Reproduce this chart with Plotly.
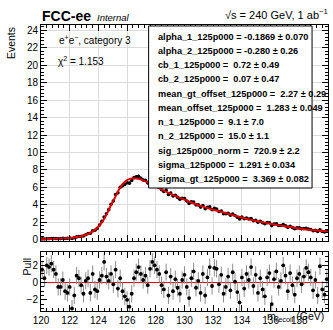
import numpy as np
import plotly.graph_objects as go

# ---------------- data ----------------
x_min, x_max, n_bins = 120.0, 140.0, 125
bin_w = (x_max - x_min) / n_bins
bin_centers = x_min + bin_w * (np.arange(n_bins) + 0.5)

events = [
    0.11, 0.10, 0.13, 0.13, 0.15,
    0.145, 0.145, 0.13, 0.145, 0.18,
    0.16, 0.17, 0.21, 0.16, 0.24,
    0.34, 0.39, 0.42, 0.44, 0.59,
    0.72, 0.75, 1.03, 1.10, 1.31,
    1.70, 2.11, 2.62, 2.99, 3.46,
    4.08, 4.45, 5.20, 5.38, 6.03,
    6.18, 6.34, 6.54, 6.49, 6.80,
    7.12, 7.21, 7.29, 7.06, 6.85,
    6.81, 6.52, 6.69, 6.67, 6.47,
    6.26, 6.06, 5.74, 5.54, 5.69,
    5.19, 5.37, 5.02, 5.10, 4.86,
    4.65, 4.75, 4.72, 4.44, 4.16,
    4.35, 4.34, 4.01, 4.00, 3.75,
    3.93, 3.56, 3.72, 3.77, 3.45,
    3.60, 3.52, 3.25, 3.30, 2.99,
    3.00, 3.05, 2.82, 2.96, 2.78,
    2.59, 2.40, 2.61, 2.42, 2.51,
    2.39, 2.45, 2.19, 2.25, 2.01,
    2.11, 1.95, 1.84, 1.97, 1.96,
    1.63, 1.81, 1.83, 1.64, 1.65,
    1.74, 1.60, 1.43, 1.54, 1.40,
    1.28, 1.37, 1.37, 1.26, 1.29,
    1.31, 1.25, 1.18, 1.05, 1.10,
    0.97, 1.15, 0.96, 0.90, 0.98,
]

events_err = [
    0.02, 0.02, 0.02, 0.02, 0.02,
    0.02, 0.02, 0.02, 0.02, 0.02,
    0.03, 0.03, 0.03, 0.03, 0.03,
    0.03, 0.04, 0.04, 0.04, 0.05,
    0.05, 0.05, 0.06, 0.06, 0.07,
    0.08, 0.09, 0.09, 0.10, 0.11,
    0.12, 0.13, 0.13, 0.14, 0.15,
    0.15, 0.15, 0.16, 0.16, 0.16,
    0.16, 0.16, 0.16, 0.16, 0.16,
    0.16, 0.15, 0.15, 0.15, 0.15,
    0.15, 0.15, 0.14, 0.14, 0.14,
    0.14, 0.14, 0.14, 0.14, 0.13,
    0.13, 0.13, 0.13, 0.13, 0.13,
    0.12, 0.12, 0.12, 0.12, 0.12,
    0.12, 0.12, 0.12, 0.11, 0.11,
    0.11, 0.11, 0.11, 0.11, 0.11,
    0.11, 0.10, 0.10, 0.10, 0.10,
    0.10, 0.10, 0.10, 0.10, 0.09,
    0.09, 0.09, 0.09, 0.09, 0.09,
    0.09, 0.09, 0.08, 0.08, 0.08,
    0.08, 0.08, 0.08, 0.08, 0.08,
    0.08, 0.07, 0.07, 0.07, 0.07,
    0.07, 0.07, 0.07, 0.07, 0.07,
    0.07, 0.07, 0.06, 0.06, 0.06,
    0.06, 0.06, 0.06, 0.06, 0.06,
]

pulls = [
    1.5, 0.5, 2.0, 1.8, 2.2,
    1.5, 1.0, -0.5, -0.5, 0.3,
    -1.0, -1.2, -0.5, -3.0, -1.5,
    0.8, 0.5, -0.3, -1.3, 0.2,
    0.5, -1.2, 1.0, -0.8, -1.0,
    0.3, 0.8, 2.4, 0.7, 0.2,
    1.0, -0.2, 1.5, -0.7, 0.5,
    -1.0, -1.6, -2.0, -2.8, -1.3,
    0.5, 1.2, 1.8, 1.0, 0.3,
    0.8, -0.3, 1.6, 2.4, 2.0,
    1.5, 1.0, -0.3, -0.8, 1.2,
    -1.5, 0.7, -1.0, 0.4, -0.6,
    -1.3, 0.3, 0.9, -0.5, -1.8,
    0.5, 1.3, -0.6, 0.2, -1.2,
    1.0, -1.5, 0.6, 1.8, -0.4,
    1.7, 1.6, -0.2, 0.9, -1.3,
    -0.5, 0.7, -0.9, 1.2, 0.1,
    -1.1, -2.3, 0.6, -0.7, 1.0,
    0.3, 1.8, -0.4, 0.9, -1.2,
    0.5, -0.8, -1.6, 0.6, 1.1,
    -2.5, 0.4, 1.3, -0.5, 0.2,
    2.0, 0.8, -1.0, 1.1, -0.3,
    -1.4, 0.5, 1.0, -0.2, 0.7,
    1.7, 1.2, 0.6, -0.9, 0.3,
    -1.5, 1.9, -0.8, -1.4, 0.4,
]
pull_err = 1.0

fit_x = [120, 121, 122, 122.5, 123, 123.5, 123.8, 124, 124.4, 124.8, 125.2, 125.6,
         126.0, 126.4, 126.8, 127.2, 127.6, 128, 128.5, 129, 130, 131, 132, 133,
         134, 135, 136, 137, 138, 139, 140]
fit_y = [0.08, 0.12, 0.22, 0.32, 0.5, 0.85, 1.2, 1.5, 2.4, 3.7, 5.0, 6.2,
         6.85, 7.05, 7.0, 6.75, 6.45, 6.1, 5.7, 5.3, 4.6, 3.95, 3.45, 3.0,
         2.55, 2.15, 1.85, 1.55, 1.3, 1.1, 0.95]

legend_lines = [
    "alpha_1_125p000 = -0.1869 ± 0.070",
    "alpha_2_125p000 = -0.280 ± 0.26",
    "cb_1_125p000 =  0.72 ± 0.49",
    "cb_2_125p000 =  0.07 ± 0.47",
    "mean_gt_offset_125p000 =  2.27 ± 0.29",
    "mean_offset_125p000 =  1.283 ± 0.049",
    "n_1_125p000 =  9.1 ± 7.0",
    "n_2_125p000 =  15.0 ± 1.1",
    "sig_125p000_norm =  720.9 ± 2.2",
    "sigma_125p000 =  1.291 ± 0.034",
    "sigma_gt_125p000 =  3.369 ± 0.082",
]

x_ticks = [120, 122, 124, 126, 128, 130, 132, 134, 136, 138, 140]

# ---------------- geometry helpers (pixels -> paper) ----------------
W, H = 333, 330
ML, MR, MT, MB = 41, 4, 25, 12
PW, PH = W - ML - MR, H - MT - MB


def px(x):
    return (x - ML) / PW


def py(y):
    return (H - MB - y) / PH


FONT = "Liberation Sans, Arial, Helvetica, sans-serif"

fig = go.Figure()

fig.add_trace(go.Scatter(
    x=bin_centers, y=events, mode="markers",
    marker=dict(color="black", size=3.6),
    error_y=dict(type="data", array=events_err, color="black", thickness=1, width=0),
    xaxis="x", yaxis="y", showlegend=False))

fig.add_trace(go.Scatter(
    x=fit_x, y=fit_y, mode="lines", line=dict(color="#e00000", width=2, shape="spline"),
    xaxis="x", yaxis="y", showlegend=False))

fig.add_trace(go.Scatter(
    x=[x_min, x_max], y=[0, 0], mode="lines", line=dict(color="#e00000", width=1),
    xaxis="x2", yaxis="y2", showlegend=False))

fig.add_trace(go.Scatter(
    x=bin_centers, y=pulls, mode="markers",
    marker=dict(color="black", size=3.8),
    error_y=dict(type="constant", value=pull_err, color="#8c8c8c", thickness=1, width=0),
    xaxis="x2", yaxis="y2", showlegend=False))

axis_common = dict(
    showline=True, linecolor="black", linewidth=1, mirror="allticks",
    ticks="inside", ticklen=6, tickcolor="black", zeroline=False,
    tickfont=dict(family=FONT, size=10, color="black"),
)

fig.update_layout(
    width=W, height=H,
    margin=dict(l=ML, r=MR, t=MT, b=MB),
    paper_bgcolor="white", plot_bgcolor="white",
    font=dict(family=FONT, color="black"),
    xaxis=dict(domain=[0, 1], range=[x_min, x_max], anchor="y", showticklabels=False,
               tickvals=x_ticks, showgrid=True, gridcolor="#dcdcdc", gridwidth=1,
               minor=dict(dtick=0.4, ticks="inside", ticklen=3, tickcolor="black", showgrid=False),
               **axis_common),
    yaxis=dict(domain=[py(246), 1], range=[-0.1, 24.6], anchor="x", dtick=2, tick0=0,
               showgrid=True, gridcolor="#dcdcdc", gridwidth=1,
               minor=dict(dtick=0.4, ticks="inside", ticklen=3, tickcolor="black", showgrid=False),
               **axis_common),
    xaxis2=dict(domain=[0, 1], range=[x_min, x_max], anchor="y2", matches="x",
                tickvals=x_ticks, showgrid=False,
                minor=dict(dtick=0.4, ticks="inside", ticklen=3, tickcolor="black", showgrid=False),
                **axis_common),
    yaxis2=dict(domain=[0, py(258)], range=[-3.3, 3.5], anchor="x2",
                tickvals=[-2, 0, 2], ticktext=["−2", "0", "2"], showgrid=False,
                minor=dict(dtick=0.5, ticks="inside", ticklen=3, tickcolor="black", showgrid=False),
                **axis_common),
)

shapes = [dict(type="rect", xref="paper", yref="paper",
               x0=px(149), x1=px(313), y0=py(192), y1=py(26),
               fillcolor="white", line=dict(color="black", width=1), layer="above")]
fig.update_layout(shapes=shapes)

ann = []
line_ys = np.linspace(37, 183, len(legend_lines))
for txt, yy in zip(legend_lines, line_ys):
    ann.append(dict(text="<b>%s</b>" % txt, xref="paper", yref="paper", x=px(156), y=py(yy),
                    xanchor="left", yanchor="middle", showarrow=False,
                    font=dict(family=FONT, size=9.2, color="black")))

ann += [
    dict(text="<b>FCC-ee</b>", xref="paper", yref="paper", x=px(40), y=py(16),
         xanchor="left", yanchor="middle", showarrow=False,
         font=dict(family=FONT, size=14, color="black")),
    dict(text="<i>Internal</i>", xref="paper", yref="paper", x=px(95), y=py(17),
         xanchor="left", yanchor="middle", showarrow=False,
         font=dict(family=FONT, size=9.5, color="black")),
    dict(text="√s = 240 GeV, 1 ab<sup>−1</sup>", xref="paper", yref="paper", x=px(331), y=py(14),
         xanchor="right", yanchor="middle", showarrow=False,
         font=dict(family=FONT, size=11, color="black")),
    dict(text="e<sup>+</sup>e<sup>−</sup>, category 3", xref="paper", yref="paper", x=px(57), y=py(40),
         xanchor="left", yanchor="middle", showarrow=False,
         font=dict(family=FONT, size=10, color="black")),
    dict(text="χ<sup>2</sup> = 1.153", xref="paper", yref="paper", x=px(56), y=py(62),
         xanchor="left", yanchor="middle", showarrow=False,
         font=dict(family=FONT, size=10, color="black")),
    dict(text="Events", xref="paper", yref="paper", x=px(11), y=py(25),
         xanchor="center", yanchor="top", textangle=-90, showarrow=False,
         font=dict(family=FONT, size=10.5, color="black")),
    dict(text="Pull", xref="paper", yref="paper", x=px(27), y=py(261),
         xanchor="center", yanchor="top", textangle=-90, showarrow=False,
         font=dict(family=FONT, size=10.5, color="black")),
    dict(text="m<sub>recoil</sub> (GeV)", xref="paper", yref="paper", x=px(327), y=py(324),
         xanchor="right", yanchor="middle", showarrow=False,
         font=dict(family=FONT, size=10.5, color="black")),
]
fig.update_layout(annotations=ann)

fig.write_html("out.html")
